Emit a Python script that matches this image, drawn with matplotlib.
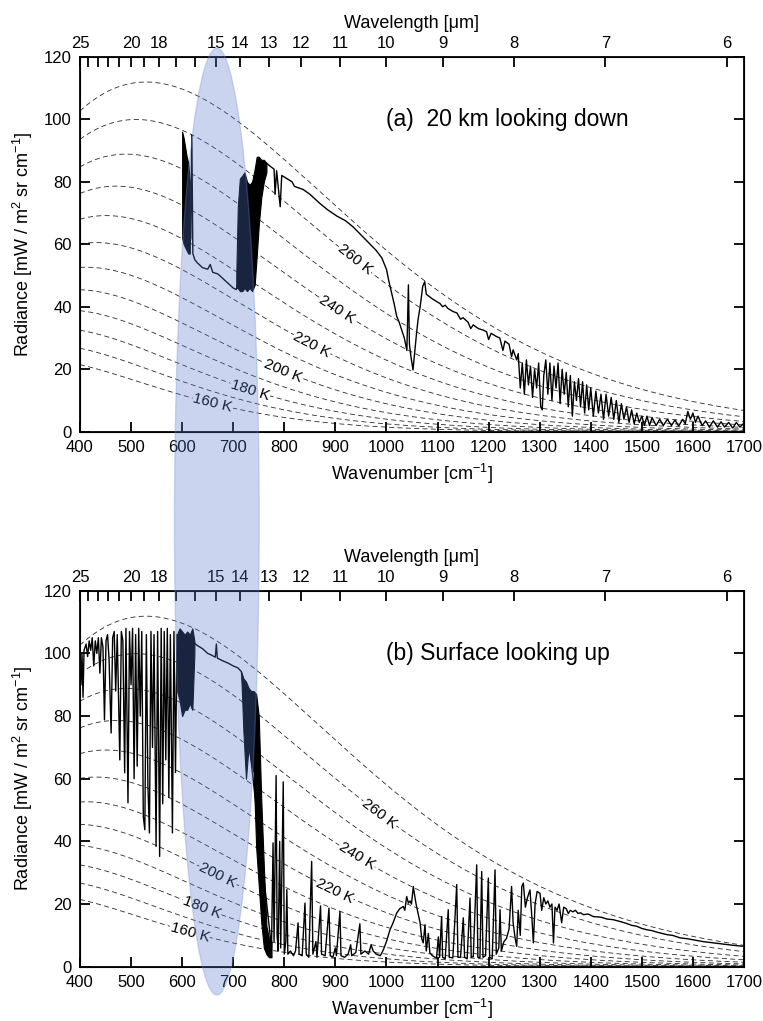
"""Thermal infrared spectra: 20 km looking down vs surface looking up."""

import matplotlib
matplotlib.use("Agg")
import matplotlib.pyplot as plt
import matplotlib.transforms as mtransforms
import numpy as np
from matplotlib.patches import Ellipse

plt.rcParams["font.family"] = ["Liberation Sans", "DejaVu Sans"]
plt.rcParams["mathtext.default"] = "regular"

# blackbody reference temperatures (K)
temps = [160, 170, 180, 190, 200, 210, 220, 230, 240, 250, 260, 270]
label_temps = [160, 180, 200, 220, 240, 260]
down_label_nu = [660, 733, 797, 854, 903, 938]
up_label_nu = [615, 639, 670, 899, 942, 987]

wn_ticks = list(range(400, 1701, 100))
rad_ticks = list(range(0, 121, 20))
wl_ticks = list(range(6, 26))
wl_labeled = [25, 20, 18, 15, 14, 13, 12, 11, 10, 9, 8, 7, 6]

co2_center = 668  # cm-1, 15 um band

# ---- (a) 20 km looking down ----
down_nu = [
    615, 617, 619, 621, 625, 630, 640, 650, 655, 660, 670, 680, 690, 700, 706,
    765, 772, 780, 782, 785, 792, 795, 800, 805, 815, 820, 837, 850, 870, 885,
    903, 920, 935, 950, 965, 980, 991, 1000, 1005, 1010, 1015, 1020, 1025, 1030,
    1035, 1040, 1043, 1045, 1048, 1052, 1055, 1059, 1062, 1066, 1071, 1075, 1078,
    1082, 1090, 1100, 1105, 1110, 1115, 1120, 1130, 1138, 1145, 1150, 1160, 1165,
    1170, 1180, 1190, 1196, 1200, 1205, 1215, 1222, 1228, 1232, 1240, 1245, 1248,
    1255, 1258, 1262, 1266, 1270, 1274, 1278, 1282, 1286, 1290, 1294, 1298, 1302,
    1305, 1308, 1312, 1316, 1320, 1324, 1328, 1332, 1336, 1340, 1344, 1348, 1352,
    1356, 1360, 1364, 1368, 1372, 1376, 1380, 1384, 1388, 1392, 1396, 1400, 1405,
    1410, 1415, 1420, 1425, 1430, 1435, 1440, 1445, 1450, 1455, 1460, 1465, 1470,
    1475, 1480, 1485, 1490, 1495, 1500, 1505, 1510, 1515, 1520, 1528, 1535, 1542,
    1550, 1558, 1565, 1572, 1580, 1585, 1590, 1595, 1600, 1605, 1610, 1618, 1625,
    1632, 1640, 1648, 1655, 1662, 1670, 1678, 1685, 1692, 1700,
]
down_rad = [
    60, 62, 95, 57, 55, 54, 52.5, 52, 53.5, 51, 50.5, 49, 47.5, 46, 45.5,
    86, 85, 84, 76, 83.5, 72, 82, 81.5, 81, 80, 78.5, 77.5, 76, 73, 71,
    69, 67.5, 65.5, 63, 60.5, 58, 55.6, 52, 48, 44.5, 41, 37, 35, 32.5,
    30, 26, 47, 28, 24, 19.8, 25, 31.6, 36, 40, 46.5, 48, 44,
    43.5, 42.5, 41.5, 41, 40, 40.5, 39.5, 38.5, 38, 36, 36.5, 35, 33,
    34.2, 33, 32.5, 32, 29.5, 31.5, 30.5, 30, 26, 29, 28, 24, 26.2,
    23, 25, 14, 22, 12, 23, 15, 21, 11, 20, 14, 22, 8,
    7, 18, 23, 12, 22, 10, 21, 14, 22, 9, 20, 12, 19,
    8, 18, 5, 16, 10, 17, 8, 16, 6, 15, 7, 14, 5,
    13, 6, 12, 4, 12, 5, 11, 4, 10, 3, 9, 4, 8,
    3, 7, 2.5, 6, 3, 5, 2, 5, 2, 4.5, 2, 4, 2,
    4, 2, 3.8, 1.8, 4, 2.5, 6.5, 4, 6, 3, 5, 2, 3.5,
    1.5, 3.5, 1.5, 3.2, 1.5, 3, 1.2, 3, 1.5, 2.8,
]
# unresolved (densely packed) parts: upper / lower envelope
down_band1_nu = [600, 603, 606, 609, 612, 615]
down_band1_hi = [96, 94, 91, 88, 86, 80]
down_band1_lo = [62, 60, 59, 58, 57, 57]
down_band2_nu = [706, 709, 713, 718, 722, 727, 732, 737, 742, 746, 750, 755, 760, 765]
down_band2_hi = [50, 72, 81, 82, 83, 80, 79, 80, 84, 88, 88, 87, 87, 86]
down_band2_lo = [46, 46, 45, 45, 46, 45, 46, 45, 47, 56, 66, 75, 80, 83]

# ---- (b) surface looking up ----
up_nu = [
    400, 402, 404, 406, 408, 412, 415, 418, 421, 424, 427, 430, 433, 436, 439,
    442, 445, 448, 451, 454, 457, 461, 464, 467, 470, 473, 478, 481, 484, 487.5,
    490, 494, 497, 500, 503, 506, 509, 512, 515, 518, 521, 524, 527, 530, 533,
    536, 539, 542, 545, 549, 552, 556, 559, 562, 565, 568, 571, 574, 577, 581,
    584, 587, 590,
    624, 630, 640, 650, 657, 665, 667, 669, 680, 690, 700, 709, 716,
    775, 778, 780, 784, 786, 788, 791, 793, 798, 800, 803, 805, 807, 812, 818,
    822, 827, 829, 835, 840.5, 843, 848, 853.6, 856, 862, 864, 871, 873, 880,
    887.5, 890, 895, 900, 902, 909, 911, 918, 925, 930, 932, 940, 948, 950, 958,
    965, 970, 974, 980, 988, 994, 1000, 1007, 1013, 1020, 1026, 1033, 1036,
    1039.6, 1043, 1046, 1049, 1052.6, 1055, 1058, 1062, 1066, 1069, 1072, 1075.5,
    1078, 1082, 1085, 1090, 1098, 1101.6, 1104, 1108, 1110, 1115, 1121, 1123,
    1130, 1137.6, 1140, 1145, 1150.5, 1153, 1158, 1163.6, 1166, 1170, 1176.7,
    1179, 1183, 1186.5, 1189, 1194, 1199.5, 1202, 1207, 1212.6, 1215, 1220,
    1222.4, 1225, 1230, 1235, 1240, 1245, 1248, 1252, 1255, 1258, 1262, 1265,
    1268, 1272, 1276, 1281, 1285, 1287.6, 1291, 1295, 1300.7, 1304, 1308, 1312,
    1316, 1320, 1324, 1327, 1330, 1334, 1338, 1343, 1347, 1352, 1356, 1360,
    1365, 1370, 1375, 1380, 1385.6, 1395, 1405, 1420, 1432, 1444, 1460, 1470,
    1480, 1490, 1500, 1509.6, 1520, 1530, 1550, 1560, 1575, 1590, 1600, 1620,
    1640, 1660, 1680, 1699,
]
up_rad = [
    96, 90, 100, 86, 101, 103, 99, 104, 101, 105, 96, 104, 100, 105, 93.7,
    105, 102, 78.8, 104, 106, 98, 74.6, 105, 107, 88, 106, 66, 107, 104, 61.9,
    108, 52.3, 107, 90, 108, 60, 106, 64, 108, 80, 107, 48, 43.7, 106, 58,
    42.7, 107, 70, 106, 38.4, 107, 35.2, 108, 52, 107, 66, 108, 54, 106, 42.7,
    107, 62, 106,
    103.3, 102.5, 101.5, 100, 99.5, 98.8, 103, 98.5, 97.6, 96.9, 96, 95.4, 94.2,
    6, 39.5, 8, 61, 10, 5, 40, 6, 59, 4, 8, 24.6, 4, 5, 3.5,
    5, 14, 4, 3.5, 20.3, 4, 3, 33.6, 4, 8, 3, 19.4, 4, 3.5,
    18.7, 3.5, 3, 6, 3.5, 17.6, 3.5, 3, 4, 7, 3.5, 4.5, 13.7, 4, 5,
    4, 7, 5, 4, 3.5, 5.4, 8, 11.8, 14, 17.1, 18.5, 19.2, 18,
    22.4, 20.3, 21, 20, 25.6, 23, 20, 17, 13.9, 9, 7.6, 13.4,
    5, 10.6, 4.4, 3.5, 2.7, 9.5, 3, 16, 3, 2.5, 18.2, 3,
    2.8, 26.2, 3, 3, 15.6, 3, 2.5, 21.9, 3, 3.2, 32.5,
    3, 2.8, 30.4, 3, 3.5, 28.3, 3, 2.5, 30.9, 4, 6,
    18.2, 5, 8, 9, 12, 25.6, 14, 9, 6.5, 18, 10, 25.6,
    26.7, 19, 22, 24.5, 15, 7.6, 20, 24, 23.4, 18, 22, 20,
    21, 19, 20, 7.6, 19, 18, 20, 14, 19, 18.5, 17, 18,
    17.5, 18, 17, 17.2, 16.6, 16.8, 16, 15.8, 15.2, 15, 14.3, 13.8,
    13.2, 12.9, 12.2, 11.8, 11.5, 11, 10.2, 10, 9.2, 8.9, 8.6, 8,
    7.6, 7.2, 6.8, 6.5,
]
up_band1_nu = [590, 595, 600, 605, 610, 615, 620, 624]
up_band1_hi = [106, 108, 107, 106, 107, 106, 108, 104]
up_band1_lo = [88, 85, 80, 82, 82, 84, 82, 100]
up_band2_nu = [716, 720, 725, 730, 735, 740, 745, 750, 755, 760, 765, 770, 775]
up_band2_hi = [94, 92, 91, 89, 88, 88, 87, 80, 53, 32, 13, 9, 8]
up_band2_lo = [92, 75, 60, 70, 65, 62, 38, 26, 14, 6, 4, 3, 3]


def planck(nu, T):
    """Blackbody radiance in mW / (m2 sr cm-1)."""
    nu = np.asarray(nu, dtype=float)
    return 1.191042e-5 * nu**3 / np.expm1(1.438777 * nu / T)


def draw_panel(ax, nu, rad, bands, label_nu, title):
    grid = np.linspace(400, 1700, 500)
    for T in temps:
        ax.plot(grid, planck(grid, T), color="#2a2a2a", lw=0.6,
                dashes=(6, 4), zorder=1)

    ax.plot(nu, rad, color="black", lw=1.0, zorder=3)
    for b_nu, b_hi, b_lo in bands:
        ax.fill_between(b_nu, b_lo, b_hi, color="black", lw=0.8,
                        edgecolor="black", zorder=3)

    ax.set_xlim(400, 1700)
    ax.set_ylim(0, 120)
    ax.set_xticks(wn_ticks)
    ax.set_yticks(rad_ticks)
    ax.tick_params(direction="in", length=7, width=1.3, labelsize=12,
                   right=True, top=False, pad=6)
    for sp in ax.spines.values():
        sp.set_linewidth(1.3)
    ax.set_xlabel("Wavenumber [cm$^{-1}$]", fontsize=13, labelpad=5)
    ax.set_ylabel("Radiance [mW / m$^2$ sr cm$^{-1}$]", fontsize=13,
                  labelpad=6)

    top = ax.twiny()
    top.set_xlim(400, 1700)
    top.set_xticks([1e4 / w for w in wl_ticks])
    top.set_xticklabels([str(w) if w in wl_labeled else "" for w in wl_ticks])
    top.tick_params(direction="in", length=7, width=1.3, labelsize=12, pad=4)
    top.set_xlabel("Wavelength [μm]", fontsize=13, labelpad=6)

    ax.text(1000, 100, title, fontsize=16.5, ha="left", va="center")

    for T, x in zip(label_temps, label_nu):
        p1 = ax.transData.transform((x - 5, planck(x - 5, T)))
        p2 = ax.transData.transform((x + 5, planck(x + 5, T)))
        angle = np.degrees(np.arctan2(p2[1] - p1[1], p2[0] - p1[0]))
        ax.text(x, planck(x, T), f"{T} K", fontsize=11, rotation=angle,
                rotation_mode="anchor", ha="center", va="center", zorder=4,
                bbox=dict(facecolor="white", edgecolor="none", pad=0.6))


fig = plt.figure(figsize=(7.63, 10.21), dpi=100)
ax_a = fig.add_axes([0.1048, 0.5771, 0.8703, 0.3674])
ax_b = fig.add_axes([0.1048, 0.0532, 0.8703, 0.3682])

draw_panel(ax_a, down_nu, down_rad,
           [(down_band1_nu, down_band1_hi, down_band1_lo),
            (down_band2_nu, down_band2_hi, down_band2_lo)],
           down_label_nu, "(a)  20 km looking down")
draw_panel(ax_b, up_nu, up_rad,
           [(up_band1_nu, up_band1_hi, up_band1_lo),
            (up_band2_nu, up_band2_hi, up_band2_lo)],
           up_label_nu, "(b) Surface looking up")

# highlight of the 15 um CO2 band spanning both panels
trans = mtransforms.blended_transform_factory(ax_a.transData, fig.transFigure)
ell = Ellipse((co2_center, 1 - 521.5 / 1021), width=166, height=947 / 1021,
              transform=trans, facecolor="#5477ce", alpha=0.31,
              edgecolor="#6f8fd6", lw=1.0, zorder=10, clip_on=False)
fig.add_artist(ell)

fig.savefig("out.png", dpi=100)
